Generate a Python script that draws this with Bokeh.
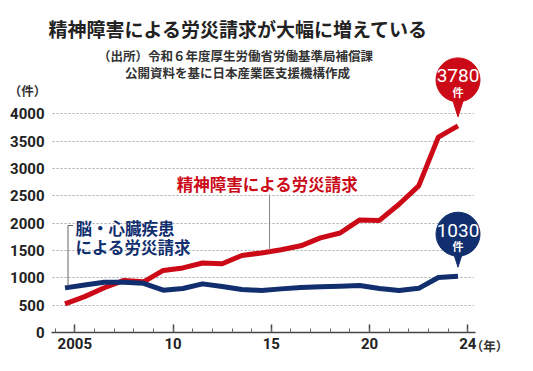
from bokeh.plotting import figure
from bokeh.models import FixedTicker, Range1d
from bokeh.core.properties import value
from bokeh.embed import file_html
from bokeh.resources import INLINE

# ---------------- data ----------------
years = list(range(2004, 2025))
mental = [524, 656, 819, 952, 927, 1136, 1181, 1272, 1257, 1409, 1456,
          1515, 1586, 1732, 1820, 2060, 2051, 2346, 2683, 3575, 3780]
brain = [816, 869, 920, 920, 900, 775, 805, 890, 840, 786, 770,
         798, 822, 835, 848, 860, 805, 770, 808, 1005, 1030]
y_ticks = [0, 500, 1000, 1500, 2000, 2500, 3000, 3500, 4000]
x_tick_years = [2005, 2010, 2015, 2020, 2025]
x_tick_labels = ["2005", "10", "15", "20", "24"]

title = "精神障害による労災請求が大幅に増えている"
source1 = "（出所）令和６年度厚生労働省労働基準局補償課"
source2 = "公開資料を基に日本産業医支援機構作成"
mental_name = "精神障害による労災請求"
brain_name = ["脳・心臓疾患", "による労災請求"]
unit_y = "（件）"
unit_x = "（年）"

RED = "#cc0a17"
NAVY = "#112f6e"
CJK = value("Noto Sans CJK JP")

# ---------------- geometry (picture pixels -> data) ----------------
PX_X = 19.65      # px per year
PX_Y = 0.05466    # px per case


def X(px):
    return 2004 + (px - 64.5) / PX_X


def Y(py):
    return (332 - py) / PX_Y


def dx(px):
    return px / PX_X


def dy(px):
    return px / PX_Y


W, H = 517, 355
p = figure(title=None, frame_width=W, frame_height=H,
           x_range=Range1d(X(0), X(W)), y_range=Range1d(Y(H), Y(0)),
           output_backend="svg", toolbar_location=None, min_border=0)
p.outline_line_color = None
p.background_fill_color = "white"

# axes (fixed inside the frame)
xpos = [y - 0.5 for y in x_tick_years]
p.xaxis.fixed_location = 0
p.xaxis.bounds = (X(51), X(475))
p.xaxis.ticker = FixedTicker(ticks=xpos, minor_ticks=[y - 0.5 for y in range(2004, 2026)])
p.xaxis.major_label_overrides = dict(zip(xpos, x_tick_labels))
p.xaxis.major_tick_in = 8
p.xaxis.major_tick_out = 0
p.xaxis.minor_tick_in = 4
p.xaxis.minor_tick_out = 0
p.xaxis.axis_line_color = "#444"
p.xaxis.axis_line_width = 1.5
p.xaxis.major_tick_line_color = "#444"
p.xaxis.major_tick_line_width = 1.5
p.xaxis.minor_tick_line_color = "#666"
p.xaxis.major_label_standoff = 5

p.yaxis.fixed_location = X(51)
p.yaxis.ticker = FixedTicker(ticks=y_ticks)
p.yaxis.axis_line_color = None
p.yaxis.major_tick_line_color = None
p.yaxis.minor_tick_line_color = None
p.yaxis.major_label_standoff = 1

for ax in (p.xaxis, p.yaxis):
    ax.major_label_text_font = "Roboto"
    ax.major_label_text_font_size = "15px"
    ax.major_label_text_font_style = "bold"
    ax.major_label_text_color = "#222"

p.xgrid.grid_line_color = None
p.ygrid.ticker = FixedTicker(ticks=y_ticks[1:])
p.ygrid.cross_bounds = (X(52), X(473))
p.ygrid.grid_line_color = "#aaaaaa"
p.ygrid.grid_line_dash = "2 2"
p.ygrid.grid_line_width = 1

# lines
p.line(years, mental, line_color=RED, line_width=5, line_join="round")
p.line(years, brain, line_color=NAVY, line_width=5, line_join="round")

# leader lines
lx = years[10] + dx(8)
p.line([lx, lx], [Y(194), mental[10] + dy(3)], line_color="#888", line_width=1)
bx = years[0] + dx(3)
p.line([bx + dx(5), bx, bx], [Y(225), Y(225), brain[0] + dy(2)], line_color="#666", line_width=1)

# series labels
p.text(x=[X(267)], y=[Y(183)], text=[mental_name], text_align="center", text_baseline="middle",
       text_font=CJK, text_font_size="16.5px", text_font_style="bold", text_color=RED)
p.text(x=[X(75), X(75)], y=[Y(227), Y(246)], text=brain_name, text_align="left",
       text_baseline="middle", text_font=CJK, text_font_size="16.5px",
       text_font_style="bold", text_color=NAVY)

# bubbles
for vals, col, off in ((mental, RED, 46), (brain, NAVY, 42)):
    xe, ve = years[-1], vals[-1]
    cy = ve + dy(off)
    p.patch([xe - dx(6), xe + dx(6), xe], [ve + dy(28), ve + dy(28), ve + dy(9)],
            fill_color=col, line_color=col)
    p.scatter([xe], [cy], size=44, marker="circle", fill_color=col, line_color=col)
    p.text(x=[xe], y=[cy + dy(4)], text=[str(ve)], text_align="center", text_baseline="middle",
           text_font=value("Roboto"), text_font_size="19px", text_color="white")
    p.text(x=[xe], y=[cy - dy(12)], text=["件"], text_align="center", text_baseline="middle",
           text_font=CJK, text_font_size="11px", text_font_style="bold", text_color="white")

# title & source
p.text(x=[X(238)], y=[Y(28)], text=[title], text_align="center", text_baseline="middle",
       text_font=CJK, text_font_size="19px", text_font_style="bold", text_color="#222")
p.text(x=[X(235), X(237)], y=[Y(55), Y(72)], text=[source1, source2], text_align="center",
       text_baseline="middle", text_font=CJK, text_font_size="12.5px",
       text_font_style="bold", text_color="#333")

# unit labels
p.text(x=[X(27), X(489)], y=[Y(90), Y(345)], text=[unit_y, unit_x], text_align="center",
       text_baseline="middle", text_font=CJK, text_font_size="12.5px",
       text_font_style="bold", text_color="#333")

open("out.html", "w").write(file_html(p, INLINE))
